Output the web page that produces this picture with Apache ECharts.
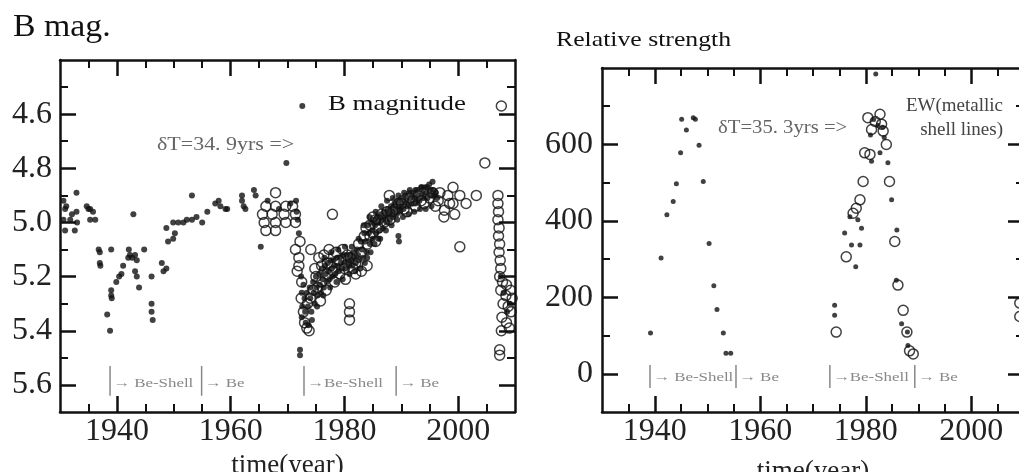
<!DOCTYPE html>
<html>
<head>
<meta charset="utf-8">
<script src="https://cdn.jsdelivr.net/npm/echarts@6/dist/echarts.min.js"></script>
<style>
html, body { margin: 0; padding: 0; background: #fff; }
#chart { width: 1019px; height: 472px; }
</style>
</head>
<body>
<div id="chart"></div>
<script>
// 刻度
const yearMajorTicks = [1940, 1960, 1980, 2000];
const yearMinorTicks = [1935, 1945, 1950, 1955, 1965, 1970, 1975, 1985, 1990, 1995, 2005];
const magMajorTicks = [4.6, 4.8, 5.0, 5.2, 5.4, 5.6];
const magMinorTicks = [4.5, 4.7, 4.9, 5.1, 5.3, 5.5];
const ewMajorTicks = [0, 200, 400, 600];
const ewMinorTicks = [100, 300, 500, 700];

// B 星等：照相观测（点）
const bMagDots = [
    [1930.6, 4.92], [1930.9, 4.95], [1930.6, 4.99], [1930.9, 5.03], [1931.1, 4.94], [1931.8, 4.99],
    [1932.1, 4.97], [1932.6, 5.03], [1932.9, 4.89], [1932.9, 4.96], [1933.0, 5.00], [1934.7, 4.94],
    [1935.0, 4.95], [1935.3, 4.95], [1935.8, 4.96], [1935.3, 4.99], [1936.2, 4.99],
    [1936.8, 5.10], [1937.0, 5.11], [1937.0, 5.15], [1937.1, 5.16], [1938.3, 5.34], [1938.8, 5.40],
    [1939.0, 5.10], [1939.0, 5.25], [1939.0, 5.27], [1939.1, 5.28], [1939.9, 5.22], [1940.4, 5.20],
    [1940.8, 5.19], [1941.1, 5.16], [1942.0, 5.13], [1942.1, 5.10], [1942.3, 5.12], [1942.7, 5.13],
    [1942.9, 4.97], [1943.2, 5.12], [1943.2, 5.18], [1943.5, 5.14], [1943.5, 5.20], [1943.9, 5.24],
    [1944.8, 5.10], [1946.1, 5.20], [1946.1, 5.30], [1946.1, 5.33], [1946.3, 5.36],
    [1947.9, 5.15], [1948.7, 5.17], [1948.2, 5.18], [1948.7, 5.02], [1949.0, 5.07], [1949.9, 5.06],
    [1950.2, 5.04], [1949.9, 5.00], [1950.8, 5.00], [1951.7, 5.00], [1952.3, 4.99], [1953.2, 4.99],
    [1953.2, 4.90], [1954.0, 4.98], [1955.0, 5.00], [1955.9, 4.96], [1957.3, 4.93], [1957.9, 4.92],
    [1958.2, 4.94], [1959.1, 4.95], [1959.4, 4.95],
    [1962.0, 4.90], [1962.0, 4.92], [1962.3, 4.94], [1962.6, 4.95], [1964.1, 4.88], [1964.4, 4.90],
    [1965.3, 5.09], [1969.8, 4.78], [1972.6, 4.57], [1966.5, 4.92], [1968.5, 4.95], [1970.5, 4.93],
    [1971.5, 4.92], [1971.6, 4.96], [1971.8, 4.99], [1972.0, 5.04], [1972.2, 5.47], [1972.2, 5.49],
    [1972.4, 5.20], [1972.5, 5.26], [1972.6, 5.31], [1972.5, 5.35], [1972.8, 5.23],
    [1973.0, 5.28], [1973.1, 5.33], [1973.2, 5.37], [1973.4, 5.26], [1973.6, 5.31],
    [1973.9, 5.24], [1974.0, 5.28], [1974.2, 5.33], [1974.5, 5.22], [1974.6, 5.26], [1974.8, 5.30],
    [1975.0, 5.20], [1975.1, 5.24], [1975.3, 5.27], [1975.6, 5.19], [1975.7, 5.23], [1975.9, 5.26],
    [1976.1, 5.17], [1976.2, 5.21], [1976.4, 5.24], [1976.6, 5.16], [1976.7, 5.19], [1976.9, 5.22],
    [1977.1, 5.15], [1977.2, 5.18], [1977.4, 5.21], [1977.6, 5.14], [1977.8, 5.17], [1977.9, 5.20],
    [1978.1, 5.14], [1978.3, 5.16], [1978.4, 5.19], [1978.7, 5.13], [1978.8, 5.16], [1979.0, 5.18],
    [1979.2, 5.13], [1979.4, 5.15], [1979.6, 5.17], [1979.8, 5.12], [1980.0, 5.15], [1980.2, 5.17],
    [1980.4, 5.12], [1980.6, 5.14], [1980.8, 5.16], [1981.0, 5.12], [1981.2, 5.14], [1981.4, 5.16],
    [1981.6, 5.11], [1981.8, 5.13], [1982.0, 5.15], [1982.2, 5.10], [1982.4, 5.12], [1982.6, 5.14],
    [1982.9, 5.07], [1983.1, 5.10], [1983.3, 5.13], [1983.5, 5.04], [1983.7, 5.07], [1983.9, 5.11],
    [1984.1, 5.01], [1984.3, 5.04], [1984.5, 5.08], [1984.7, 5.00], [1984.9, 5.03], [1985.0, 5.06],
    [1985.2, 4.99], [1985.4, 5.01], [1985.6, 5.04], [1985.8, 4.98], [1986.0, 5.00], [1986.2, 5.03],
    [1986.4, 4.97], [1986.6, 4.99], [1986.8, 5.02], [1987.0, 4.96], [1987.2, 4.98], [1987.4, 5.00],
    [1987.6, 4.95], [1987.8, 4.97], [1988.0, 4.99], [1988.2, 4.94], [1988.4, 4.96], [1988.6, 4.98],
    [1988.8, 4.93], [1989.0, 4.95], [1989.2, 4.97], [1989.4, 4.92], [1989.6, 4.94], [1989.8, 4.96],
    [1990.0, 4.91], [1990.2, 4.93], [1990.4, 4.95], [1990.7, 4.90], [1990.9, 4.92], [1991.1, 4.94],
    [1991.4, 4.89], [1991.6, 4.91], [1991.8, 4.93], [1992.1, 4.89], [1992.3, 4.91], [1992.5, 4.93],
    [1992.8, 4.88], [1993.0, 4.90], [1993.2, 4.92], [1993.5, 4.87], [1993.7, 4.89], [1993.9, 4.91],
    [1994.2, 4.87], [1994.4, 4.89], [1994.6, 4.91], [1994.9, 4.86], [1995.1, 4.88], [1995.3, 4.90],
    [1995.6, 4.88], [1995.8, 4.90], [1996.1, 4.89], [1996.3, 4.91],
    [1974.3, 5.36], [1973.7, 5.38], [1975.2, 5.31], [1976.3, 5.27], [1977.5, 5.24], [1978.6, 5.22],
    [1979.7, 5.21], [1980.9, 5.19], [1981.9, 5.18], [1982.8, 5.17], [1983.6, 5.15], [1984.6, 5.11],
    [1985.3, 5.08], [1986.3, 5.06], [1987.3, 5.03], [1988.3, 5.01], [1989.3, 4.99], [1990.3, 4.98],
    [1991.3, 4.97], [1992.3, 4.96], [1993.3, 4.95], [1994.3, 4.95], [1995.3, 4.94],
    [1976.5, 5.13], [1977.7, 5.11], [1978.9, 5.10], [1980.1, 5.09], [1981.3, 5.09], [1982.5, 5.06],
    [1983.4, 5.01], [1984.4, 4.98], [1985.5, 4.96], [1986.5, 4.94], [1987.5, 4.92], [1988.5, 4.91],
    [1989.5, 4.90], [1990.5, 4.89], [1991.5, 4.88], [1992.5, 4.88], [1993.6, 4.87], [1994.5, 4.87],
    [1989.5, 5.05], [1989.6, 5.07], [1995.5, 4.85], [1984.0, 5.13], [1986.0, 5.06],
    [2007.5, 5.20], [2008.0, 5.26], [2008.6, 5.33], [2009.1, 5.30]
];

// B 星等：光电观测（圈）
const bMagCircles = [
    [1967.9, 4.89], [1966.2, 4.94], [1967.9, 4.94], [1969.7, 4.94], [1970.9, 4.94], [1965.6, 4.97],
    [1967.3, 4.97], [1969.4, 4.97], [1971.4, 4.97], [1965.9, 5.00], [1967.9, 5.00], [1969.7, 5.00],
    [1971.4, 5.00], [1966.2, 5.03], [1967.9, 5.03],
    [1971.4, 5.10], [1972.0, 5.13], [1972.0, 5.16], [1971.7, 5.18], [1972.2, 5.07], [1972.5, 5.22],
    [1972.4, 5.28], [1972.8, 5.33], [1973.0, 5.37], [1973.8, 5.40], [1973.4, 5.39],
    [1974.1, 5.10], [1977.3, 5.10], [1979.7, 5.10], [1975.5, 5.13], [1976.4, 5.12], [1978.5, 5.11],
    [1980.5, 5.12], [1974.8, 5.17], [1976.0, 5.16], [1977.0, 5.19], [1979.2, 5.19], [1981.5, 5.17],
    [1975.3, 5.24], [1974.0, 5.28], [1975.8, 5.29], [1976.8, 5.25], [1978.3, 5.22], [1980.2, 5.21],
    [1982.0, 5.19], [1983.0, 5.18], [1984.0, 5.16], [1977.9, 4.97], [1980.9, 5.30], [1980.9, 5.33],
    [1980.9, 5.36],
    [1973.5, 5.30], [1974.5, 5.25], [1975.0, 5.20], [1976.0, 5.22], [1977.0, 5.15], [1978.0, 5.18],
    [1979.0, 5.14], [1980.0, 5.17], [1981.0, 5.13], [1982.0, 5.15], [1983.0, 5.11], [1984.0, 5.08],
    [1984.5, 5.05], [1985.0, 4.98], [1986.0, 4.99], [1988.5, 4.96], [1989.5, 4.93], [1990.5, 4.95],
    [1991.5, 4.91], [1992.5, 4.94], [1993.5, 4.92], [1995.5, 4.89], [1996.5, 4.92], [1997.5, 4.98],
    [1998.5, 4.93],
    [1982.5, 5.08], [1983.5, 5.05], [1984.5, 5.01], [1985.0, 5.04], [1985.5, 4.99], [1986.0, 5.02],
    [1986.5, 4.97], [1987.0, 5.00], [1987.5, 4.96], [1988.0, 4.99], [1987.9, 4.90], [1989.0, 4.95],
    [1990.0, 4.93], [1991.0, 4.96], [1992.0, 4.92], [1993.0, 4.90], [1994.0, 4.93], [1995.0, 4.91],
    [1996.0, 4.94], [1985.5, 5.07], [1983.8, 5.02],
    [1999.1, 4.87], [1998.2, 4.90], [2000.3, 4.90], [1999.1, 4.93], [2001.4, 4.93], [1997.6, 4.955],
    [1999.4, 4.97], [2003.2, 4.90], [2000.3, 5.09], [2004.7, 4.78], [1996.8, 4.89],
    [2007.6, 4.57], [2007.0, 4.90], [2007.0, 4.93], [2007.1, 4.96], [2007.0, 4.99], [2007.2, 5.02],
    [2007.1, 5.05], [2007.3, 5.08], [2007.2, 5.11], [2007.4, 5.14], [2007.5, 5.17], [2007.3, 5.20],
    [2007.8, 5.22], [2008.5, 5.23], [2009.2, 5.25], [2007.5, 5.25], [2008.4, 5.27], [2009.5, 5.28],
    [2007.9, 5.30], [2008.8, 5.31], [2009.3, 5.33], [2007.7, 5.35], [2008.5, 5.37], [2009.0, 5.39],
    [2007.6, 5.40], [2007.3, 5.47], [2007.3, 5.49]
];

// 金属壳层线等值宽度：点
const ewDots = [
    [1939.2, 107], [1941.2, 303], [1942.3, 416], [1943.5, 451], [1944.1, 497], [1944.9, 578],
    [1945.1, 666], [1946.0, 638], [1947.3, 670], [1947.7, 666], [1948.4, 598], [1949.2, 503],
    [1950.3, 341], [1951.2, 230], [1951.8, 168], [1953.0, 107], [1953.5, 54], [1954.4, 54],
    [1974.1, 179], [1974.1, 153], [1976.0, 368], [1977.3, 337], [1978.9, 337], [1978.1, 280],
    [1977.0, 411], [1978.5, 403], [1979.2, 381], [1981.9, 784], [1982.7, 578], [1984.2, 552],
    [1981.1, 556], [1984.9, 455], [1985.9, 376], [1985.8, 245], [1986.8, 131], [1987.9, 109],
    [1988.0, 74], [1981.5, 665], [1982.3, 650], [1983.2, 645], [1980.9, 625], [1983.5, 618]
];

// 金属壳层线等值宽度：圈
const ewCircles = [
    [1974.4, 109], [1976.3, 306], [1977.6, 420], [1978.2, 433], [1978.9, 455], [1979.5, 503],
    [1979.8, 578], [1980.8, 574], [1980.4, 670], [1981.1, 639], [1982.7, 679], [1983.0, 653],
    [1983.3, 635], [1981.8, 660], [1983.9, 600], [1984.5, 503], [1985.5, 346], [1986.1, 232],
    [1987.1, 166], [1987.8, 109], [1988.3, 60], [1989.0, 52], [2009.2, 185], [2009.2, 150]
];

// Be-Shell / Be 阶段起点（年）
const phaseLabels = ['→ Be-Shell', '→ Be', '→Be-Shell', '→ Be'];
const bMagPhaseYears = [1938.8, 1954.9, 1972.9, 1989.1];
const ewPhaseYears = [1939.1, 1955.4, 1973.2, 1989.3];

const SERIF = "'Liberation Serif', 'DejaVu Serif', serif";
const INK = '#111';

// 生成一条带轴线的主刻度轴和一条只有短刻度的次刻度轴
function axisPair(gridIndex, position, range, inverse, majors, minors, label, extra) {
    const base = {
        type: 'value', gridIndex, position, min: range[0], max: range[1], inverse,
        splitLine: { show: false }, axisPointer: { show: false }
    };
    const major = Object.assign({}, base, {
        axisLine: { show: true, onZero: false, lineStyle: { color: INK, width: 2.5 } },
        axisTick: { show: true, inside: true, length: 16, customValues: majors, lineStyle: { color: INK, width: 2.5 } },
        axisLabel: label
            ? Object.assign({ show: true, customValues: majors, fontFamily: SERIF, fontSize: 32, color: '#222' }, label)
            : { show: false }
    }, extra || {});
    const minor = Object.assign({}, base, {
        axisLine: { show: false, onZero: false },
        axisTick: { show: true, inside: true, length: 8, customValues: minors, lineStyle: { color: INK, width: 2 } },
        axisLabel: { show: false }
    });
    return [major, minor];
}

const yearRange = [1930, 2010];
const magRange = [4.4, 5.7];
const ewRange = [-100, 800];
const xName = {
    name: 'time(year)', nameLocation: 'middle', nameMoveOverlap: false,
    nameTextStyle: { fontFamily: SERIF, fontSize: 27, color: '#222', verticalAlign: 'top' }
};

const xAxis = [
    ...axisPair(0, 'bottom', yearRange, false, yearMajorTicks, yearMinorTicks,
        { formatter: v => String(v), margin: 4 }, Object.assign({ nameGap: 40 }, xName)),
    ...axisPair(0, 'top', yearRange, false, yearMajorTicks, yearMinorTicks),
    ...axisPair(1, 'bottom', yearRange, false, yearMajorTicks, yearMinorTicks,
        { formatter: v => String(v), margin: 4 }, Object.assign({ nameGap: 46 }, xName)),
    ...axisPair(1, 'top', yearRange, false, yearMajorTicks, yearMinorTicks)
];
const yAxis = [
    ...axisPair(0, 'left', magRange, true, magMajorTicks, magMinorTicks,
        { formatter: v => v.toFixed(1), margin: 8, padding: [0, 0, 6, 0] }),
    ...axisPair(0, 'right', magRange, true, magMajorTicks, magMinorTicks),
    ...axisPair(1, 'left', ewRange, false, ewMajorTicks, ewMinorTicks,
        { formatter: v => String(v), margin: 9, padding: [0, 0, 4, 0] }),
    ...axisPair(1, 'right', ewRange, false, ewMajorTicks, ewMinorTicks)
];

const circleStyle = { color: 'rgba(0,0,0,0)', borderColor: INK, borderWidth: 1.5 };
const dotStyle = { color: INK };

const chart = echarts.init(document.getElementById('chart'));
chart.setOption({
    animation: false,
    backgroundColor: '#fff',
    grid: [
        { left: 60, top: 60, width: 455, height: 352, outerBoundsMode: 'none' },
        { left: 602, top: 68, width: 422, height: 344, outerBoundsMode: 'none' }
    ],
    xAxis,
    yAxis,
    series: [
        { type: 'scatter', xAxisIndex: 0, yAxisIndex: 0, data: bMagCircles, symbolSize: 10, itemStyle: circleStyle, silent: true },
        { type: 'scatter', xAxisIndex: 0, yAxisIndex: 0, data: bMagDots, symbolSize: 6, itemStyle: dotStyle, silent: true },
        { type: 'scatter', xAxisIndex: 4, yAxisIndex: 4, data: ewCircles, symbolSize: 10, itemStyle: circleStyle, silent: true },
        { type: 'scatter', xAxisIndex: 4, yAxisIndex: 4, data: ewDots, symbolSize: 5, itemStyle: dotStyle, silent: true }
    ]
});

// 文字说明（原图文字横向略拉长，用 scaleX 还原）
function label(text, x, y, size, fill, align, sx) {
    return {
        type: 'text', silent: true, x, y, scaleX: sx || 1,
        style: { text, x: 0, y: 0, font: `${size}px ${SERIF}`, fill, align: align || 'left', verticalAlign: 'middle' }
    };
}

// 阶段标记：竖线加箭头文字，位置按数据坐标换算
function phaseMarks(finder, years, barFrom, barTo, textAt) {
    const items = [];
    years.forEach((year, i) => {
        const top = chart.convertToPixel(finder, [year, barFrom]);
        const bottom = chart.convertToPixel(finder, [year, barTo]);
        const mid = chart.convertToPixel(finder, [year, textAt]);
        items.push({
            type: 'line', silent: true,
            shape: { x1: top[0], y1: top[1], x2: bottom[0], y2: bottom[1] },
            style: { stroke: '#888', lineWidth: 1.5 }
        });
        items.push(label(phaseLabels[i], mid[0] + 3, mid[1], 13, '#888', 'left', 1.3));
    });
    return items;
}

chart.setOption({
    graphic: [
        label('B mag.', 13, 28, 31, INK, 'left', 1.09),
        label('Relative strength', 556, 40, 22, INK, 'left', 1.17),
        label('B magnitude', 328, 104, 22, INK, 'left', 1.22),
        label('δT=34. 9yrs =>', 157, 145, 18, '#666', 'left', 1.22),
        label('δT=35. 3yrs =>', 718, 128, 18, '#666', 'left', 1.15),
        label('EW(metallic', 1003, 106, 19, '#444', 'right'),
        label('shell lines)', 1003, 130, 19, '#444', 'right'),
        ...phaseMarks({ xAxisIndex: 0, yAxisIndex: 0 }, bMagPhaseYears, 5.53, 5.64, 5.595),
        ...phaseMarks({ xAxisIndex: 4, yAxisIndex: 4 }, ewPhaseYears, 23, -37, -11)
    ]
});
</script>
</body>
</html>
